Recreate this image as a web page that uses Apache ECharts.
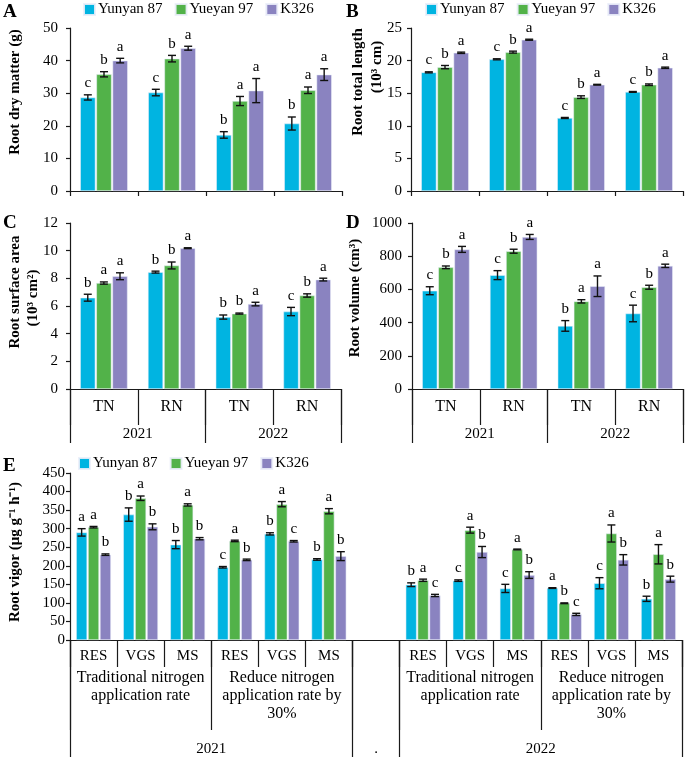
<!DOCTYPE html>
<html>
<head>
<meta charset="utf-8">
<script src="https://cdn.jsdelivr.net/npm/echarts@6.0.0/dist/echarts.min.js"></script>
<style>
html, body { margin: 0; padding: 0; background: #fff; }
#main { width: 685px; height: 760px; }
</style>
</head>
<body>
<div id="main"></div>
<script>
var FONT = '"Liberation Serif", "Times New Roman", serif';
var varieties = ['Yunyan 87', 'Yueyan 97', 'K326'];
var colors = ['#00b4e1', '#52b249', '#8a83c0'];

// panels A-D: 2021 TN, 2021 RN, 2022 TN, 2022 RN
var treatLabels = ['TN', 'RN', 'TN', 'RN'];
var yearLabels = ['2021', '2022'];

// A root dry matter (g)
var dryMatter = [[28.7, 30.2, 17.2, 20.7], [35.8, 40.6, 27.6, 30.9], [40.0, 43.8, 30.8, 35.7]];
var dryMatterErr = [[0.8, 1.0, 1.0, 2.0], [0.8, 1.0, 1.4, 1.0], [0.7, 0.6, 3.7, 1.8]];
var dryMatterSig = [['c', 'c', 'b', 'b'], ['b', 'b', 'a', 'a'], ['a', 'a', 'a', 'a']];

// B root total length (10^3 cm)
var totalLength = [[18.2, 20.2, 11.2, 15.2], [19.0, 21.3, 14.4, 16.3], [21.2, 23.2, 16.3, 18.9]];
var totalLengthErr = [[0.08, 0.08, 0.08, 0.06], [0.25, 0.15, 0.2, 0.12], [0.1, 0.08, 0.06, 0.1]];
var totalLengthSig = [['c', 'c', 'c', 'c'], ['b', 'b', 'b', 'b'], ['a', 'a', 'a', 'a']];

// C root surface area (10^3 cm2)
var surfaceArea = [[6.6, 8.45, 5.2, 5.6], [7.66, 8.93, 5.45, 6.76], [8.15, 10.18, 6.14, 7.91]];
var surfaceAreaErr = [[0.25, 0.07, 0.15, 0.3], [0.08, 0.25, 0.04, 0.12], [0.25, 0.03, 0.13, 0.1]];
var surfaceAreaSig = [['b', 'b', 'b', 'c'], ['a', 'b', 'b', 'b'], ['a', 'a', 'a', 'a']];

// D root volume (cm3)
var rootVolume = [[592, 686, 380, 455], [733, 830, 528, 613], [841, 916, 619, 742]];
var rootVolumeErr = [[24, 27, 32, 50], [8, 12, 10, 12], [18, 15, 62, 10]];
var rootVolumeSig = [['c', 'c', 'b', 'c'], ['b', 'b', 'a', 'b'], ['a', 'a', 'a', 'a']];

// E root vigor, 13 slots: 2021 (6), gap, 2022 (6)
var stageLabels = ['RES', 'VGS', 'MS', 'RES', 'VGS', 'MS', '', 'RES', 'VGS', 'MS', 'RES', 'VGS', 'MS'];
var nitrogenLabels = ['', 'Traditional nitrogen\napplication rate', '', '', 'Reduce nitrogen\napplication rate by\n30%', '', '',
  '', 'Traditional nitrogen\napplication rate', '', '', 'Reduce nitrogen\napplication rate by\n30%', ''];
var vigor = [
  [290, 338, 257, 196, 286, 217, '-', 149, 160, 139, 140, 153, 111],
  [304, 382, 364, 267, 366, 347, '-', 161, 296, 244, 99, 287, 231],
  [230, 305, 273, 216, 266, 226, '-', 120, 237, 175, 69, 216, 164]
];
var vigorErr = [
  [10, 18, 11, 2, 3, 2, 0, 5, 2, 11, 1, 15, 7],
  [2, 6, 3, 2, 7, 7, 0, 3, 8, 1, 1, 23, 26],
  [2, 8, 3, 2, 2, 12, 0, 3, 15, 9, 3, 14, 8]
];
var vigorSig = [
  ['a', 'b', 'b', 'c', 'b', 'b', '', 'b', 'c', 'c', 'a', 'c', 'b'],
  ['a', 'a', 'a', 'a', 'a', 'a', '', 'a', 'a', 'a', 'b', 'a', 'a'],
  ['b', 'b', 'b', 'b', 'c', 'b', '', 'c', 'b', 'b', 'c', 'b', 'b']
];

var lineStyle = { color: '#1a1a1a', width: 1.2 };
var series = [];

function errRender(k, sig, catGap, barGap) {
  return function (params, api) {
    var i = api.value(0), v = api.value(1), e = api.value(2);
    var band = api.size([1, 0])[0];
    var w = band * (1 - catGap) / (3 + 2 * barGap);
    var dx = (k - 1) * w * (1 + barGap);
    var pTop = api.coord([i, v + e]);
    var pBot = api.coord([i, v - e]);
    var x = pTop[0] + dx;
    var cap = 4;
    var st = { stroke: '#111', lineWidth: 1.4 };
    return {
      type: 'group',
      children: [
        { type: 'line', shape: { x1: x, y1: pTop[1], x2: x, y2: pBot[1] }, style: st },
        { type: 'line', shape: { x1: x - cap, y1: pTop[1], x2: x + cap, y2: pTop[1] }, style: st },
        { type: 'line', shape: { x1: x - cap, y1: pBot[1], x2: x + cap, y2: pBot[1] }, style: st },
        { type: 'text', x: x, y: pTop[1] - 4, style: { text: sig[params.dataIndex], fontFamily: FONT, fontSize: 15, fill: '#000', align: 'center', verticalAlign: 'bottom' } }
      ]
    };
  };
}

function addPanel(xi, yi, vals, errs, sigs, catGap, barGap) {
  for (var k = 0; k < 3; k++) {
    series.push({
      type: 'bar', name: varieties[k], xAxisIndex: xi, yAxisIndex: yi,
      data: vals[k], barCategoryGap: (catGap * 100) + '%', barGap: (barGap * 100) + '%',
      itemStyle: { color: colors[k], borderColor: 'rgba(235,238,250,0.9)', borderWidth: 0.6 }
    });
    var d = [], s = [];
    for (var j = 0; j < vals[k].length; j++) {
      if (vals[k][j] === '-') continue;
      d.push([j, vals[k][j], errs[k][j]]);
      s.push(sigs[k][j]);
    }
    series.push({
      type: 'custom', xAxisIndex: xi, yAxisIndex: yi, z: 5,
      renderItem: errRender(k, s, catGap, barGap),
      encode: { x: 0, y: 1 },
      data: d
    });
  }
}

addPanel(0, 0, dryMatter, dryMatterErr, dryMatterSig, 0.3, 0.06);
addPanel(1, 1, totalLength, totalLengthErr, totalLengthSig, 0.3, 0.06);
addPanel(2, 2, surfaceArea, surfaceAreaErr, surfaceAreaSig, 0.3, 0.06);
addPanel(4, 3, rootVolume, rootVolumeErr, rootVolumeSig, 0.3, 0.06);
addPanel(6, 4, vigor, vigorErr, vigorSig, 0.26, 0.08);

function yAxis(g, max, step, margin) {
  return {
    type: 'value', gridIndex: g, min: 0, max: max, interval: step,
    axisLine: { show: true, lineStyle: lineStyle },
    axisTick: { show: true, length: 4, lineStyle: lineStyle },
    splitLine: { show: false },
    axisLabel: { margin: margin, fontFamily: FONT, fontSize: 15, color: '#000', formatter: function (v) { return String(v); } }
  };
}

function pick(list) {
  return function (i) { return list.indexOf(i) >= 0; };
}

function lab(extra) {
  return Object.assign({ fontFamily: FONT, fontSize: 15, color: '#000', interval: 0 }, extra);
}

function tick(len, interval) {
  return { show: true, length: len, interval: interval, alignWithLabel: false, lineStyle: lineStyle };
}

var xAxes = [
  { type: 'category', gridIndex: 0, position: 'bottom', boundaryGap: true, data: treatLabels, axisLine: { show: true, onZero: false, lineStyle: lineStyle }, axisTick: tick(5, 0), axisLabel: { show: false } },
  { type: 'category', gridIndex: 1, position: 'bottom', boundaryGap: true, data: treatLabels, axisLine: { show: true, onZero: false, lineStyle: lineStyle }, axisTick: tick(5, 0), axisLabel: { show: false } },
  { type: 'category', gridIndex: 2, position: 'bottom', boundaryGap: true, data: treatLabels, axisLine: { show: true, onZero: false, lineStyle: lineStyle }, axisTick: tick(36, 0), axisLabel: lab({ margin: 10, fontSize: 16 }) },
  { type: 'category', gridIndex: 2, position: 'bottom', boundaryGap: true, data: yearLabels, axisLine: { show: false, onZero: false }, axisTick: tick(54, 0), axisLabel: lab({ margin: 38 }) },
  { type: 'category', gridIndex: 3, position: 'bottom', boundaryGap: true, data: treatLabels, axisLine: { show: true, onZero: false, lineStyle: lineStyle }, axisTick: tick(36, 0), axisLabel: lab({ margin: 10, fontSize: 16 }) },
  { type: 'category', gridIndex: 3, position: 'bottom', boundaryGap: true, data: yearLabels, axisLine: { show: false, onZero: false }, axisTick: tick(54, 0), axisLabel: lab({ margin: 38 }) },
  // E: stage level
  { type: 'category', gridIndex: 4, position: 'bottom', boundaryGap: true, data: stageLabels, axisLine: { show: true, onZero: false, lineStyle: lineStyle }, axisTick: tick(27, 0), axisLabel: lab({ margin: 9 }) },
  // E: nitrogen level
  { type: 'category', gridIndex: 4, position: 'bottom', boundaryGap: true, data: nitrogenLabels, axisLine: { show: false, onZero: false }, axisTick: tick(90, pick([0, 3, 6, 7, 10])), axisLabel: lab({ margin: 29, fontSize: 16, lineHeight: 18 }) },
  // E: year level ticks
  { type: 'category', gridIndex: 4, position: 'bottom', boundaryGap: true, data: stageLabels, axisLine: { show: false, onZero: false }, axisTick: tick(117, pick([0, 6, 7])), axisLabel: { show: false } },
  // E: year labels
  { type: 'value', gridIndex: 4, position: 'bottom', min: 0, max: 13, interval: 0.5, axisLine: { show: false, onZero: false }, axisTick: { show: false }, splitLine: { show: false },
    axisLabel: { fontFamily: FONT, fontSize: 15, color: '#000', margin: 102, showMinLabel: true, showMaxLabel: true, formatter: function (v) { return v === 3 ? '2021' : v === 6.5 ? '.' : v === 10 ? '2022' : ''; } } }
];

function legend(left, top) {
  return {
    data: varieties, left: left, top: top, padding: 0, icon: 'rect',
    itemWidth: 11, itemHeight: 11, itemGap: 12, selectedMode: false,
    textStyle: { fontFamily: FONT, fontSize: 15, color: '#000', padding: [0, 0, 0, -2] }
  };
}

function vtext(x, y, text) {
  return { type: 'text', x: x, y: y, rotation: Math.PI / 2, style: { text: text, font: 'bold 15px ' + FONT, fill: '#000', align: 'center', verticalAlign: 'middle' } };
}
function letter(x, y, text) {
  return { type: 'text', x: x, y: y, style: { text: text, font: 'bold 19px ' + FONT, fill: '#000', align: 'left', verticalAlign: 'middle' } };
}

var myChart = echarts.init(document.getElementById('main'));
var option = {
  animation: false,
  backgroundColor: '#fff',
  legend: [legend(83, 2), legend(425, 2), legend(78, 456)],
  grid: [
    { left: 70, top: 28, width: 272, height: 163 },
    { left: 411, top: 28, width: 272, height: 163 },
    { left: 70, top: 223, width: 271, height: 166 },
    { left: 412, top: 223, width: 271, height: 166 },
    { left: 70, top: 473, width: 613, height: 167 }
  ],
  xAxis: xAxes,
  yAxis: [yAxis(0, 50, 10, 12), yAxis(1, 25, 5, 9), yAxis(2, 12, 2, 12), yAxis(3, 1000, 200, 10), yAxis(4, 450, 50, 5)],
  graphic: [
    letter(3, 12, 'A'), letter(346, 12, 'B'), letter(3, 223, 'C'), letter(346, 223, 'D'), letter(3, 466, 'E'),
    vtext(15, 92, 'Root dry matter (g)'),
    vtext(358, 82, 'Root total length'),
    vtext(377, 67, '(10³ cm)'),
    vtext(15, 292, 'Root surface area'),
    vtext(33, 298, '(10³ cm²)'),
    vtext(355, 298, 'Root volume (cm³)'),
    vtext(15, 552, 'Root vigor (μg g⁻¹ h⁻¹)')
  ],
  series: series
};
myChart.setOption(option);
</script>
</body>
</html>
